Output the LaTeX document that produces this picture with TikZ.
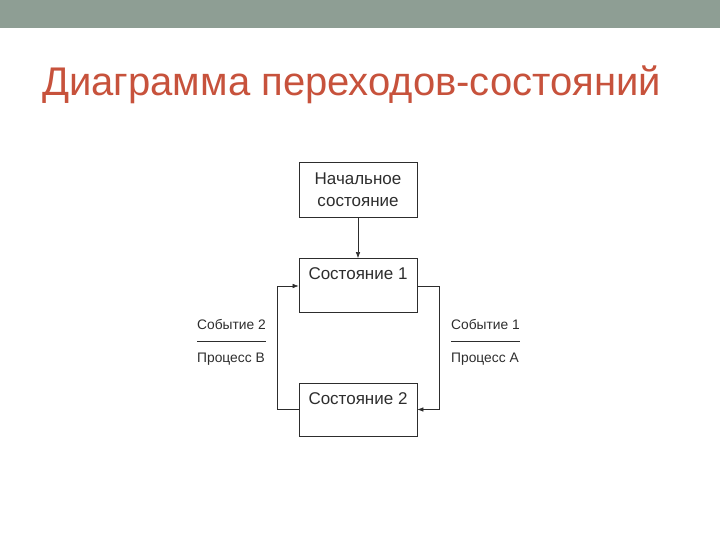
\documentclass[tikz,border=0pt]{standalone}
\usepackage{fontspec}
\setmainfont{Liberation Sans}
\usepackage{tikz}
\usetikzlibrary{arrows,arrows.meta,shapes}
\definecolor{barcol}{RGB}{142,158,148}
\definecolor{titlecol}{RGB}{199,82,60}
\definecolor{inkcol}{RGB}{45,45,45}
\tikzstyle{state}=[draw=inkcol,thick,rectangle,minimum width=118pt,inner sep=0pt,text=inkcol,font=\fontsize{17}{20}\selectfont]
\tikzstyle{top state}=[state,text height=21pt,text depth=33pt]
\tikzstyle{tag}=[text=inkcol,inner sep=0pt,font=\fontsize{13.8}{16}\selectfont]
\tikzstyle{edge} = [draw=inkcol,semithick,-{Latex[length=6pt,width=4.5pt]}]
\tikzstyle{bar} = [draw=inkcol,thick,-]

\begin{document}
\begin{tikzpicture}[x=1pt,y=-1pt]
        \useasboundingbox (0,0) rectangle (720,540);
        \fill[barcol] (0,0) rectangle (720,28);
        \node[anchor=base west,inner sep=0pt,text=titlecol,font=\fontsize{40}{44}\selectfont] (title) at (42,96) {Диаграмма переходов-состояний};
        \node[state,minimum height=55pt,align=center] (init) at (358,189.5) {Начальное\\[1.5pt]состояние};
        \node[top state] (s1) at (358,285.5) {Состояние 1};
        \node[top state,text depth=32pt] (s2) at (358,409.5) {Состояние 2};
        \coordinate (l1) at (277,286);
        \coordinate (l2) at (277,409.5);
        \coordinate (r1) at (439,286);
        \coordinate (r2) at (439,409.5);
        \draw[edge] (init) to (s1);
        \draw[edge] (s1.east |- r1) -- (r1) -- (r2) -- (s2.east);
        \draw[edge] (s2.west) -- (l2) -- (l1) -- (s1.west |- l1);
        % event / process labels
        \node[tag,anchor=base west] (ev2) at (197,329) {Событие 2};
        \node[tag,anchor=base west] (pr2) at (197,362) {Процесс B};
        \node[tag,anchor=base west] (ev1) at (451,329) {Событие 1};
        \node[tag,anchor=base west] (pr1) at (451,362) {Процесс А};
        \coordinate (a2) at (197,341);
        \coordinate (b2) at (266,341);
        \coordinate (a1) at (451,341);
        \coordinate (b1) at (520,341);
        \draw[bar] (a2) to (b2);
        \draw[bar] (a1) to (b1);
      \end{tikzpicture}
\end{document}
